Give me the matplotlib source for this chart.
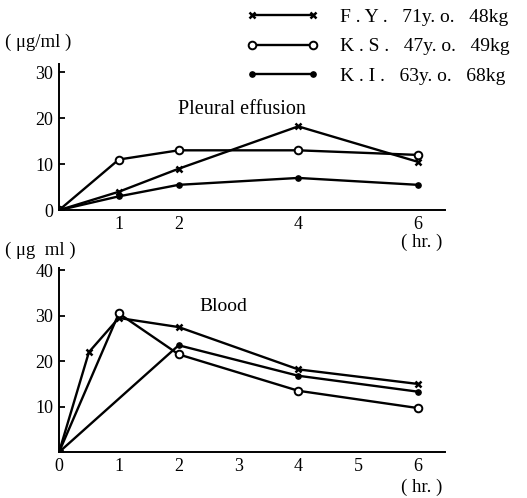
import matplotlib.pyplot as plt
from matplotlib.lines import Line2D

plt.rcParams["font.family"] = ["Liberation Serif", "DejaVu Serif"]

names = ["F . Y .   71y. o.   48kg", "K . S .   47y. o.   49kg", "K . I .   63y. o.   68kg"]

# pleural effusion (ug/ml)
pe_hours = [0, 1, 2, 4, 6]
pe_fy = [0, 4.0, 9.0, 18.2, 10.5]
pe_ks = [0, 11.0, 13.0, 13.0, 12.0]
pe_ki = [0, 3.0, 5.5, 7.0, 5.5]

# blood (ug/ml)
bl_hours_fy = [0, 0.5, 1, 2, 4, 6]
bl_fy = [0, 22.0, 29.5, 27.5, 18.2, 15.0]
bl_hours_ks = [0, 1, 2, 4, 6]
bl_ks = [0, 30.5, 21.5, 13.5, 9.7]
bl_hours_ki = [0, 2, 4, 6]
bl_ki = [0, 23.5, 16.8, 13.3]

top_xticks = [1, 2, 4, 6]
top_yticks = [0, 10, 20, 30]
bot_xticks = [0, 1, 2, 3, 4, 5, 6]
bot_yticks = [10, 20, 30, 40]

styles = [
    dict(marker="x", ms=5, mew=1.8, color="black", lw=1.7),
    dict(marker="o", ms=5.5, mfc="white", mew=1.4, color="black", lw=1.7),
    dict(marker="o", ms=3.8, color="black", lw=1.7),
]


def setup(ax, ylim, xticks, yticks):
    ax.set_xlim(0, 6.45)
    ax.set_ylim(*ylim)
    ax.spines["top"].set_visible(False)
    ax.spines["right"].set_visible(False)
    ax.spines["left"].set_linewidth(1.4)
    ax.spines["bottom"].set_linewidth(1.4)
    ax.set_xticks(xticks)
    ax.set_yticks(yticks)
    ax.tick_params(direction="in", length=4, width=1.3, labelsize=13, pad=4)


fig = plt.figure(figsize=(5.27, 4.98), dpi=100)

ax1 = fig.add_axes([0.112, 0.578, 0.732, 0.293])
ax1.plot(pe_hours, pe_fy, **styles[0])
ax1.plot(pe_hours, pe_ks, **styles[1])
ax1.plot(pe_hours, pe_ki, **styles[2])
setup(ax1, (0, 31.7), top_xticks, top_yticks)
ax1.tick_params(axis="x", length=0)
ax1.text(3.05, 21.8, "Pleural effusion", ha="center", va="center", fontsize=14.5)

ax2 = fig.add_axes([0.112, 0.092, 0.732, 0.37])
ax2.plot(bl_hours_fy, bl_fy, **styles[0])
ax2.plot(bl_hours_ks, bl_ks, **styles[1])
ax2.plot(bl_hours_ki, bl_ki, **styles[2])
setup(ax2, (0, 40.5), bot_xticks, bot_yticks)
ax2.tick_params(axis="x", length=0)
ax2.text(2.75, 32, "Blood", ha="center", va="center", fontsize=14)

fig.text(0.01, 0.915, "( μg/ml )", fontsize=13.5, ha="left", va="center")
fig.text(0.01, 0.497, "( μg  ml )", fontsize=13.5, ha="left", va="center")
fig.text(0.80, 0.514, "( hr. )", fontsize=13.5, ha="center", va="center")
fig.text(0.80, 0.022, "( hr. )", fontsize=13.5, ha="center", va="center")

handles = [Line2D([], [], **s) for s in styles]
fig.legend(handles, names, loc="upper right", bbox_to_anchor=(1.0, 1.018),
           frameon=False, handlelength=3.7, numpoints=2, fontsize=14,
           labelspacing=0.6, handletextpad=1.1)

fig.savefig("out.png", dpi=100)
